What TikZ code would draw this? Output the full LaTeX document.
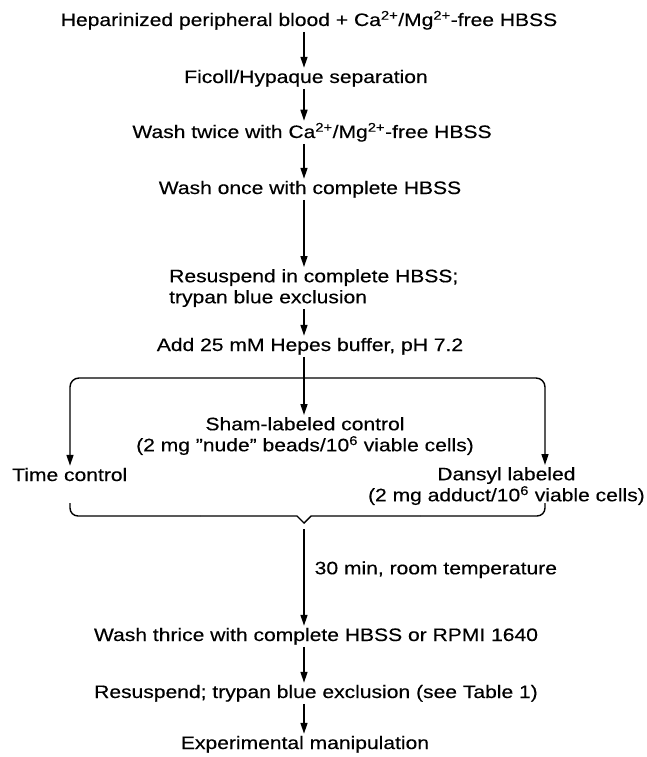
\documentclass[tikz,border=0pt]{standalone}
\usepackage{fontspec}
\setmainfont{Liberation Sans}[FakeStretch=1.17,FakeBold=0.3]
\usetikzlibrary{arrows.meta}
\begin{document}
\begin{tikzpicture}[x=1pt,y=-1pt,
  every node/.style={font=\fontsize{18}{21}\selectfont, inner sep=2pt},
  txt/.style={anchor=base},
  ln/.style={line width=1.4pt},
  arr/.style={line width=1.4pt, -{Triangle[length=11pt,width=7pt]}},
  barr/.style={line width=1.4pt, {Triangle[length=11pt,width=7pt]}-{Triangle[length=11pt,width=7pt]}, rounded corners=9pt}]
\useasboundingbox[fill=white] (0,0) rectangle (646,757);
\coordinate (ax) at (304,0);
\coordinate (lx) at (70,378);
\coordinate (rx) at (545,378);

\node[txt] (n1) at (309,26) {Heparinized peripheral blood + Ca\textsuperscript{2+}/Mg\textsuperscript{2+}-free HBSS};
\node[txt] (n2) at (306,83) {Ficoll/Hypaque separation};
\node[txt] (n3) at (312,138) {Wash twice with Ca\textsuperscript{2+}/Mg\textsuperscript{2+}-free HBSS};
\node[txt] (n4) at (310,194) {Wash once with complete HBSS};
\node[anchor=north west, align=left] (n5) at (167,267) {Resuspend in complete HBSS;\\trypan blue exclusion};
\node[txt] (n6) at (310,351) {Add 25 mM Hepes buffer, pH 7.2};
\node[anchor=north, align=center] (n7) at (305,415) {Sham-labeled control\\(2 mg ''nude'' beads/10\textsuperscript{6} viable cells)};
\node[anchor=base west] (n8) at (10,481) {Time control};
\node[anchor=north east, align=center] (n9) at (647,465) {Dansyl labeled\\(2 mg adduct/10\textsuperscript{6} viable cells)};
\node[txt] (n10) at (316,641) {Wash thrice with complete HBSS or RPMI 1640};
\node[txt] (n11) at (316,698) {Resuspend; trypan blue exclusion (see Table 1)};
\node[txt] (n12) at (305,749) {Experimental manipulation};

\draw[arr] (n1.south -| ax) -- (n2.north -| ax);
\draw[arr] (n2.south -| ax) -- (n3.north -| ax);
\draw[arr] (n3.south -| ax) -- (n4.north -| ax);
\draw[arr] (n4.south -| ax) -- (n5.north -| ax);
\draw[arr] (n5.south -| ax) -- (n6.north -| ax);
\draw[arr] (n6.south -| ax) -- (n7.north -| ax);
\draw[barr] (n8.north -| lx) -- (lx) -- (rx) -- (n9.north -| rx);

\coordinate (bl) at (70,503);
\coordinate (br) at (545,503);
\coordinate (bt) at (304,523);
\draw[ln, rounded corners=8pt] (bl) -- (70,516) -- (200,516);
\draw[ln] (200,516) -- (297,516) -- (bt) -- (311,516) -- (420,516);
\draw[ln, rounded corners=8pt] (420,516) -- (545,516) -- (br);

\coordinate (a7) at (304,529);
\draw[arr] (a7) -- node[pos=0.42, anchor=west, xshift=8pt] (lab) {30 min, room temperature} (n10.north -| ax);
\draw[arr] (n10.south -| ax) -- (n11.north -| ax);
\draw[arr] (n11.south -| ax) -- (n12.north -| ax);
\end{tikzpicture}
\end{document}
